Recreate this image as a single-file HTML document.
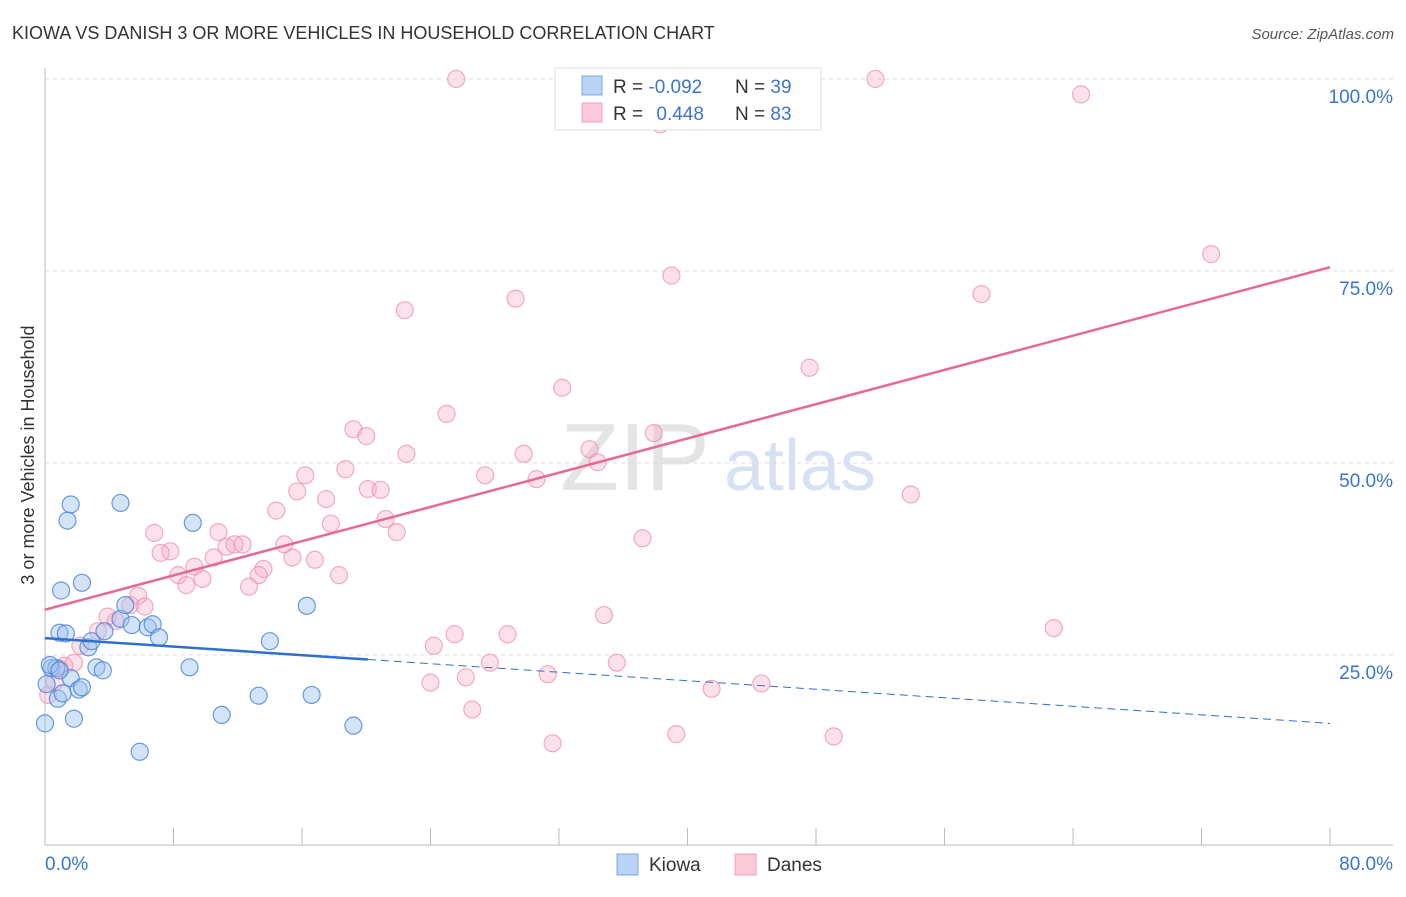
<!DOCTYPE html>
<html><head><meta charset="utf-8">
<style>
body{margin:0;background:#fff;font-family:"Liberation Sans",sans-serif;}
svg text{font-family:"Liberation Sans",sans-serif;}
</style></head>
<body>
<svg id="chart" width="1406" height="892">
<text x="12" y="39" font-size="18" fill="#333">KIOWA VS DANISH 3 OR MORE VEHICLES IN HOUSEHOLD CORRELATION CHART</text>
<text x="1394" y="39" font-size="15" fill="#555" font-style="italic" text-anchor="end">Source: ZipAtlas.com</text>
<text x="635" y="490" font-size="96" fill="#e4e4e4" font-family="Liberation Serif" text-anchor="middle">ZIP</text>
<text x="800" y="490" font-size="72" fill="#d6e2f4" text-anchor="middle">atlas</text>
<text transform="translate(34,455) rotate(-90)" font-size="18" fill="#333" text-anchor="middle">3 or more Vehicles in Household</text>
<g id="grid"></g><g id="axes"></g><g id="pts"></g><g id="lines"></g>
<g>
<rect x="555" y="68" width="266" height="62" fill="#fff" stroke="#ddd"/>
<rect x="582" y="76" width="20" height="19" fill="#b9d3f5" stroke="#7aa7e6"/>
<rect x="582" y="103" width="20" height="19" fill="#fcc9d8" stroke="#f0a0b8"/>
<text x="613" y="93" font-size="19" fill="#333">R = <tspan fill="#3b75d0">-0.092</tspan></text>
<text x="735" y="93" font-size="19" fill="#333">N = <tspan fill="#3b75d0">39</tspan></text>
<text x="613" y="120" font-size="19" fill="#333">R = <tspan fill="#3b75d0" dx="8">0.448</tspan></text>
<text x="735" y="120" font-size="19" fill="#333">N = <tspan fill="#3b75d0">83</tspan></text>
</g>
<g>
<rect x="617" y="854" width="21" height="21" fill="#b9d3f5" stroke="#7aa7e6"/>
<text x="649" y="871" font-size="19" fill="#333">Kiowa</text>
<rect x="735" y="854" width="21" height="21" fill="#fcc9d8" stroke="#f0a0b8"/>
<text x="767" y="871" font-size="19" fill="#333">Danes</text>
</g>
</svg>
<script>
const yTicks=[25,50,75,100];
const xTickLabels=["0.0%","80.0%"];
const kiowaX=[0,0.1,0.4,0.7,0.8,0.9,1.0,1.1,1.3,1.6,1.4,1.6,1.8,2.1,2.3,2.3,2.7,2.9,3.2,3.6,3.7,4.7,5.0,4.7,5.4,5.9,6.4,6.7,7.1,9.0,9.2,11.0,13.3,14.0,16.3,16.6,19.2,0.3,0.9];
const kiowaY=[16.1,21.2,23.3,23.3,19.3,27.9,33.4,20.0,27.8,44.6,42.5,22.0,16.7,20.5,20.8,34.4,26.0,26.8,23.4,23.0,28.1,29.7,31.5,44.8,28.9,12.4,28.6,29.0,27.3,23.4,42.2,17.2,19.7,26.8,31.4,19.8,15.8,23.7,23.0];
const danesX=[25.6,43.3,44.5,51.7,64.5,38.3,72.6,39.0,29.3,58.3,22.4,47.6,32.2,25.0,19.2,20.0,37.9,33.9,22.5,29.8,34.4,18.7,16.2,27.4,30.6,20.1,20.9,15.7,17.5,53.9,14.4,21.2,17.8,21.9,6.8,10.8,7.8,7.2,11.3,11.8,12.3,10.5,14.9,15.4,16.8,9.3,13.6,13.3,37.2,8.3,9.8,8.8,12.7,18.3,5.8,5.3,6.2,3.9,4.4,34.8,62.8,25.5,28.8,3.3,24.2,2.2,1.8,1.2,27.7,35.6,31.3,26.2,24.0,41.5,44.6,26.6,0.2,0.6,31.6,39.3,49.1,0.9];
const danesY=[100,100,100,100,98,94.1,77.2,74.4,71.4,72,69.9,62.4,59.8,56.4,54.4,53.5,53.9,51.8,51.2,51.2,50.1,49.2,48.4,48.4,47.9,46.6,46.5,46.3,45.3,45.9,43.8,42.7,42.1,41.0,40.9,41.0,38.5,38.3,39.1,39.4,39.4,37.7,39.4,37.7,37.4,36.5,36.2,35.4,40.2,35.4,34.9,34.1,33.9,35.4,32.7,31.5,31.3,30.0,29.4,30.2,28.5,27.7,27.7,28.1,26.2,26.2,24.0,23.6,24.0,24.0,22.5,22.1,21.4,20.6,21.3,17.9,19.8,21.5,13.5,14.7,14.4,23.2];
const danesLine=[30.9,75.5];
const kiowaLine=[27.2,16.1];
const kiowaSolidEnd=20.1;
const NS="http://www.w3.org/2000/svg";
const X0=45,X1=1330,Y0=847,PXY=7.68;
function sx(v){return X0+(X1-X0)*v/80;}
function sy(v){return Y0-v*PXY;}
function mk(tag,attrs,parent){const e=document.createElementNS(NS,tag);for(const k in attrs)e.setAttribute(k,attrs[k]);document.getElementById(parent).appendChild(e);return e;}
yTicks.forEach(t=>{
 const l=mk('line',{x1:45,x2:1393,y1:sy(t),y2:sy(t),stroke:'#ddd','stroke-dasharray':'4,4'},'grid');
 
 
 const tx=mk('text',{x:1393,y:sy(t)+24,'font-size':19,fill:'#3b75d0','text-anchor':'end'},'grid');
 tx.textContent=t.toFixed(1)+'%';
 
 
});
const ax=mk('line',{x1:45,x2:1393,y1:845,y2:845,stroke:'#bbb'},'axes');


const ay=mk('line',{x1:45,x2:45,y1:68,y2:845,stroke:'#bbb'},'axes');


for(let i=1;i<=10;i++){
 const t=mk('line',{x1:sx(i*8),x2:sx(i*8),y1:828,y2:845,stroke:'#bbb'},'axes');
 
 
}
[[0,45,'start'],[1,1393,'end']].forEach(([i,x,a])=>{
 const t=mk('text',{x:x,y:870,'font-size':19,fill:'#3b75d0','text-anchor':a},'axes');
 t.textContent=xTickLabels[i];
 
 
});
danesX.forEach((v,i)=>{
 const c=mk('circle',{cx:sx(v),cy:sy(danesY[i]),r:8.5,fill:'rgba(248,170,195,0.35)',stroke:'rgba(235,140,170,0.7)','stroke-width':1.2},'pts');
 
 
});
kiowaX.forEach((v,i)=>{
 const c=mk('circle',{cx:sx(v),cy:sy(kiowaY[i]),r:8.5,fill:'rgba(160,195,240,0.45)',stroke:'rgba(70,130,215,0.8)','stroke-width':1.2},'pts');
 
 
});
const dl=mk('line',{x1:sx(0),y1:sy(danesLine[0]),x2:sx(80),y2:sy(danesLine[1]),stroke:'#e8698f','stroke-width':2.5},'lines');


const kAt=x=>kiowaLine[0]+(kiowaLine[1]-kiowaLine[0])*x/80;
const kl=mk('line',{x1:sx(0),y1:sy(kiowaLine[0]),x2:sx(kiowaSolidEnd),y2:sy(kAt(kiowaSolidEnd)),stroke:'#2f6fd0','stroke-width':2.5},'lines');


const kd=mk('line',{x1:sx(kiowaSolidEnd),y1:sy(kAt(kiowaSolidEnd)),x2:sx(80),y2:sy(kiowaLine[1]),stroke:'#2f6fd0','stroke-width':1,'stroke-dasharray':'8,5'},'lines');


</script>
</body></html>
